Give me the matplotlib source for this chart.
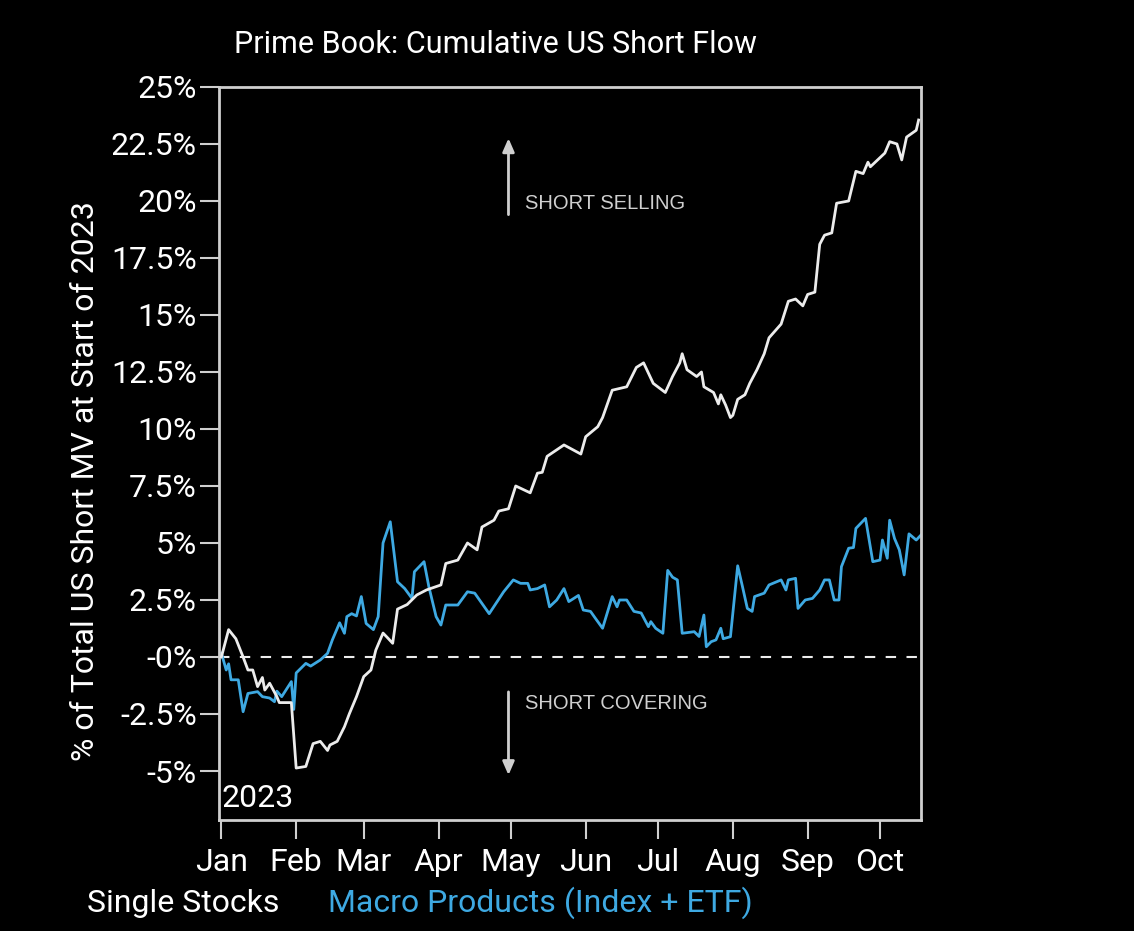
import matplotlib
matplotlib.use("Agg")
import matplotlib.pyplot as plt
import matplotlib.dates as mdates
import pandas as pd
from matplotlib import font_manager

# day offsets from 1 Jan 2023 and cumulative flow (%)
single_days = [0, 3, 6, 9, 11, 13, 15, 17, 18, 20, 23, 24, 29, 31, 35, 38, 41, 44, 45, 48,
               51, 53, 56, 59, 62, 64, 67, 69, 71, 73, 77, 81, 85, 91, 93, 98, 102, 106, 108, 113,
               115, 119, 122, 128, 131, 133, 135, 142, 149, 151, 156, 158, 162, 168, 172, 175, 179, 184, 187, 190,
               191, 193, 197, 199, 200, 204, 206, 207, 209, 211, 212, 214, 217, 219, 222, 225, 227, 232, 235, 238,
               241, 243, 246, 248, 250, 253, 255, 260, 263, 266, 268, 269, 275, 277, 280, 282, 284, 288, 289]
single_vals = [0.0, 1.2, 0.8, 0.0, -0.57, -0.57, -1.3, -0.9, -1.45, -1.15, -1.74, -2.0, -2.0, -4.87, -4.8, -3.8, -3.7, -4.1, -3.86, -3.7,
               -3.06, -2.5, -1.74, -0.86, -0.57, 0.3, 1.05, 0.83, 0.6, 2.1, 2.3, 2.72, 2.94, 3.16, 4.1, 4.25, 5.0, 4.7, 5.7, 6.0,
               6.4, 6.5, 7.5, 7.2, 8.06, 8.1, 8.8, 9.3, 8.9, 9.66, 10.1, 10.5, 11.7, 11.85, 12.7, 12.9, 12.0, 11.6, 12.3, 12.9,
               13.3, 12.6, 12.3, 12.5, 11.85, 11.6, 11.1, 11.5, 11.05, 10.5, 10.6, 11.3, 11.5, 12.0, 12.6, 13.3, 14.0, 14.6, 15.6, 15.7,
               15.4, 15.9, 16.0, 18.1, 18.5, 18.6, 19.9, 20.0, 21.3, 21.2, 21.7, 21.5, 22.1, 22.6, 22.5, 21.8, 22.8, 23.1, 23.55]

macro_days = [0, 2, 3, 4, 7, 9, 11, 15, 17, 20, 22, 23, 25, 29, 30, 31, 35, 37, 41, 44,
              46, 49, 51, 52, 54, 56, 58, 60, 63, 65, 67, 70, 73, 76, 79, 80, 84, 86, 89, 91,
              93, 98, 102, 105, 111, 117, 121, 124, 127, 128, 131, 134, 136, 139, 142, 144, 148, 150, 153, 155,
              158, 162, 164, 165, 168, 171, 174, 177, 178, 180, 183, 185, 187, 189, 191, 196, 198, 200, 201, 203,
              205, 207, 208, 211, 214, 216, 218, 220, 221, 225, 227, 232, 234, 235, 238, 239, 242, 245, 248, 250,
              252, 254, 256, 257, 260, 262, 263, 267, 270, 273, 274, 276, 277, 279, 281, 283, 285, 288, 290]
macro_vals = [0.17, -0.57, -0.3, -1.0, -1.0, -2.4, -1.6, -1.52, -1.74, -1.8, -1.96, -1.5, -1.74, -1.08, -2.3, -0.7, -0.28, -0.4, -0.13, 0.16,
              0.75, 1.5, 1.04, 1.77, 1.9, 1.8, 2.65, 1.47, 1.2, 1.77, 5.0, 5.93, 3.3, 3.0, 2.57, 3.74, 4.18, 3.08, 1.77, 1.4,
              2.28, 2.28, 2.86, 2.8, 1.9, 2.86, 3.38, 3.23, 3.23, 2.94, 3.0, 3.16, 2.2, 2.5, 3.0, 2.43, 2.7, 2.06, 2.0, 1.7,
              1.26, 2.65, 2.2, 2.5, 2.5, 2.0, 1.93, 1.33, 1.55, 1.26, 1.04, 3.8, 3.5, 3.38, 1.04, 1.11, 0.9, 1.84, 0.45, 0.67,
              0.75, 1.26, 0.8, 0.89, 4.0, 3.08, 2.13, 2.0, 2.65, 2.8, 3.16, 3.38, 2.94, 3.38, 3.45, 2.13, 2.5, 2.57, 2.94, 3.38,
              3.38, 2.5, 2.5, 3.96, 4.77, 4.8, 5.64, 6.08, 4.18, 4.25, 5.13, 4.33, 6.0, 5.2, 4.7, 3.6, 5.4, 5.13, 5.35]

yticks = [25, 22.5, 20, 17.5, 15, 12.5, 10, 7.5, 5, 2.5, 0, -2.5, -5]
ytick_labels = ["25%", "22.5%", "20%", "17.5%", "15%", "12.5%", "10%", "7.5%", "5%", "2.5%", "-0%", "-2.5%", "-5%"]

start = pd.Timestamp("2023-01-01")
single_dates = start + pd.to_timedelta(single_days, unit="D")
macro_dates = start + pd.to_timedelta(macro_days, unit="D")

names = {f.name for f in font_manager.fontManager.ttflist}
narrow = "Liberation Sans Narrow" if "Liberation Sans Narrow" in names else "Roboto"
plt.rcParams["font.family"] = [narrow, "DejaVu Sans"]

WHITE = "#ececec"
BLUE = "#3ea9e2"
GREY = "#cfcfcf"

fig = plt.figure(figsize=(11.34, 9.31), dpi=100, facecolor="black")
ax = fig.add_axes([0.1931, 0.1192, 0.6191, 0.7874], facecolor="black")

ax.plot(single_dates, single_vals, color=WHITE, lw=2.0, zorder=3)
ax.plot(macro_dates, macro_vals, color=BLUE, lw=2.0, zorder=2)
ax.axhline(0, color=WHITE, lw=1.5, ls=(0, (5, 5)), zorder=1)

ax.set_ylim(-7.15, 25)
ax.set_xlim(start - pd.Timedelta(days=1), pd.Timestamp("2023-10-18"))
ax.set_yticks(yticks)
ax.set_yticklabels(ytick_labels)
ax.xaxis.set_major_locator(mdates.MonthLocator())
ax.xaxis.set_major_formatter(mdates.DateFormatter("%b"))

for s in ax.spines.values():
    s.set_color(GREY)
    s.set_linewidth(2)
ax.tick_params(axis="y", colors=GREY, labelcolor="white", length=14, width=1.5, labelsize=23, pad=2)
ax.tick_params(axis="x", colors=GREY, labelcolor="white", length=14, width=1.5, labelsize=23, pad=6)

ax.set_ylabel("% of Total US Short MV at Start of 2023", color="white", fontsize=23)
ax.yaxis.set_label_coords(-0.170, 0.4625)
fig.text(0.437, 0.952, "Prime Book: Cumulative US Short Flow", color="white", fontsize=22,
         ha="center", va="center")

ax.text(0.004, 0.01, "2023", transform=ax.transAxes, color="white", fontsize=23,
        ha="left", va="bottom")

# direction arrows
arrow_x = start + pd.Timedelta(days=119)
arrow_style = dict(arrowstyle="-|>,head_length=0.8,head_width=0.35", color=GREY, lw=2,
                   shrinkA=0, shrinkB=0)
ax.annotate("", xy=(arrow_x, 22.75), xytext=(arrow_x, 19.4), arrowprops=arrow_style)
ax.annotate("", xy=(arrow_x, -5.18), xytext=(arrow_x, -1.53), arrowprops=arrow_style)
label_x = start + pd.Timedelta(days=126)
ax.text(label_x, 19.87, "SHORT SELLING", color=GREY, fontsize=14.5, family=["Liberation Sans", "DejaVu Sans"],
        ha="left", va="center")
ax.text(label_x, -2.06, "SHORT COVERING", color=GREY, fontsize=14.5, family=["Liberation Sans", "DejaVu Sans"],
        ha="left", va="center")

fig.text(0.077, 0.030, "Single Stocks", color="white", fontsize=23, ha="left", va="center")
fig.text(0.289, 0.030, "Macro Products (Index + ETF)", color=BLUE, fontsize=23, ha="left", va="center")

fig.savefig("out.png", dpi=100, facecolor="black")
